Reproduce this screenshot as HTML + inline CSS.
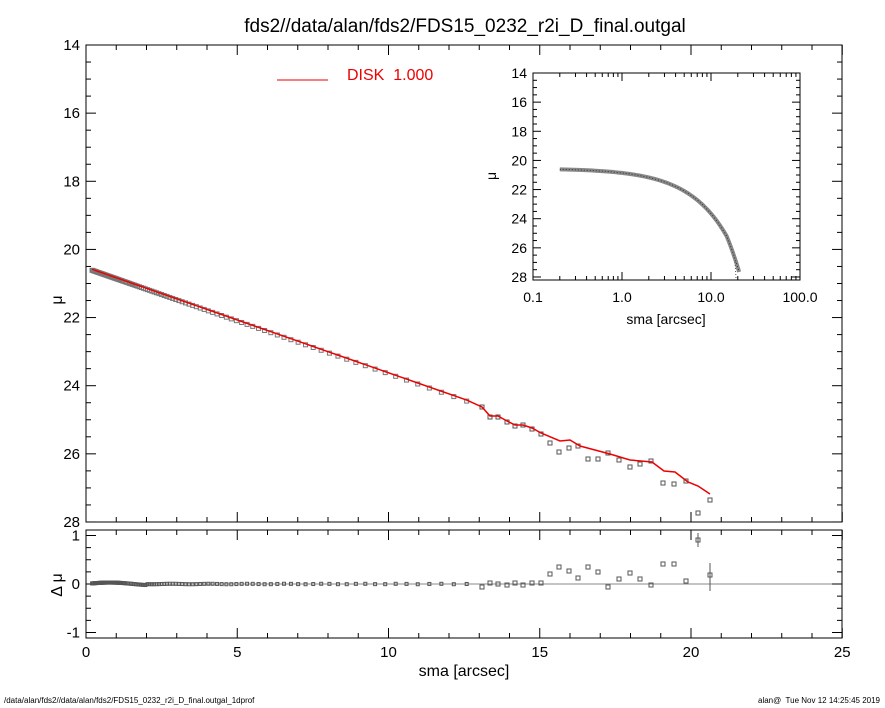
<!DOCTYPE html><html><head><meta charset="utf-8"><style>
body{margin:0;background:#fff}svg{display:block;font-family:"Liberation Sans",sans-serif}
</style></head><body>
<svg id="s" width="885" height="708" xmlns="http://www.w3.org/2000/svg">
<text x="465" y="32" font-size="19" text-anchor="middle">fds2//data/alan/fds2/FDS15_0232_r2i_D_final.outgal</text>
<rect x="86" y="45" width="756" height="477" fill="none" stroke="#000"/>
<rect x="86" y="530" width="756" height="108" fill="none" stroke="#000"/>
<line x1="86" y1="584" x2="842" y2="584" stroke="#888"/>
<line x1="277" y1="80" x2="328" y2="80" stroke="#e00"/>
<text x="347" y="80" font-size="16" fill="#e00">DISK&#160; 1.000</text>
<text x="62" y="300" font-size="16" transform="rotate(-90 62 300)" text-anchor="middle">μ</text>
<text x="62" y="585" font-size="16" transform="rotate(-90 62 585)" text-anchor="middle">Δ μ</text>
<text x="464" y="676" font-size="16" text-anchor="middle">sma [arcsec]</text>
<text x="4" y="703" font-size="8">/data/alan/fds2//data/alan/fds2/FDS15_0232_r2i_D_final.outgal_1dprof</text>
<text x="880" y="703" font-size="8" text-anchor="end">alan@&#160; Tue Nov 12 14:25:45 2019</text>
<rect x="533" y="73" width="267" height="207" fill="#fff" stroke="#000"/>
<text x="666" y="324" font-size="14" text-anchor="middle">sma [arcsec]</text>
<text x="496" y="176" font-size="14" transform="rotate(-90 496 176)" text-anchor="middle">μ</text>
<g id="g"></g>
</svg>
<script>
var g=document.getElementById('g'),h='';
function X(v){return 86+v*30.25}function Y(m){return 45+(m-14)*34.07}function R(d){return 584-d*48.5}
for(var i=0;i<=25;i++){var x=X(i),L=i%5?5:10;h+=`<line x1="${x}" y1="522" x2="${x}" y2="${522-L}" stroke="#000"/><line x1="${x}" y1="45" x2="${x}" y2="${45+L}" stroke="#000"/><line x1="${x}" y1="638" x2="${x}" y2="${638-L}" stroke="#000"/><line x1="${x}" y1="530" x2="${x}" y2="${530+L}" stroke="#000"/>`;
if(i%5==0)h+=`<text x="${x}" y="657" font-size="15" text-anchor="middle">${i}</text>`;}
for(var m=14;m<=28;m+=0.5){var y=Y(m),L=m%2?5:10;h+=`<line x1="86" y1="${y}" x2="${86+L}" y2="${y}" stroke="#000"/><line x1="842" y1="${y}" x2="${842-L}" y2="${y}" stroke="#000"/>`;
if(m%2==0)h+=`<text x="80" y="${y+5}" font-size="15" text-anchor="end">${m}</text>`;}
for(var d=-1;d<=1;d+=0.25){var y=R(d),L=d%1?5:10;h+=`<line x1="86" y1="${y}" x2="${86+L}" y2="${y}" stroke="#000"/><line x1="842" y1="${y}" x2="${842-L}" y2="${y}" stroke="#000"/>`;
if(d%1==0)h+=`<text x="80" y="${y+5}" font-size="15" text-anchor="end">${d}</text>`;}
function mu(s){return 20.55+0.31*s}
var pts=[],s=0.2;while(s<13){pts.push(s);s+=Math.max(0.03,s*0.035)}
var red='';pts.forEach(function(s){var x=X(s),y=Y(mu(s));h+=`<rect x="${x-2}" y="${y-2}" width="4" height="4" fill="none" stroke="#777" stroke-width="1"/>`;red+=x+','+(y-1)+' ';
var r=R(s<2?0.03*Math.sin(s*2):0.005*Math.sin(s*5));h+=`<rect x="${x-1.5}" y="${r-1.5}" width="3" height="3" fill="none" stroke="#555" stroke-width="1"/>`;});
var P=[[482,407,587],[490,417,583],[498,417,584],[507,422,585],[515,426,583],[523,425,585],[532,429,583],[541,434,583],[550,443,574],[559,452,567],[569,448,571],[578,446,578],[588,459,567],[598,459,572],[608,453,587],[619,460,579],[630,467,573],[640,464,579],[651,461,585],[663,483,564],[674,484,564],[686,481,581],[698,513,540],[710,500,575]];
P.forEach(function(p){h+=`<rect x="${p[0]-2}" y="${p[1]-2}" width="4" height="4" fill="none" stroke="#555"/><rect x="${p[0]-2}" y="${p[2]-2}" width="4" height="4" fill="none" stroke="#555"/>`});
h+=`<line x1="710" y1="563" x2="710" y2="591" stroke="#555"/><line x1="698" y1="533" x2="698" y2="547" stroke="#555"/>`;
red+='482,407 490,416 498,416 507,421 515,425 523,425 532,428 541,433 560,441 570,440 580,446 610,454 630,460 652,462 664,471 675,472 688,482 698,486 710,494';
h+=`<polyline points="${red}" fill="none" stroke="#e00" stroke-width="1.5"/>`;
function IX(s){return 533+89*Math.log10(s/0.1)}function IY(m){return 73+(m-14)*14.57}
for(var k=0;k<=3;k++){var x=533+89*k;h+=`<line x1="${x}" y1="280" x2="${x}" y2="272" stroke="#000"/><line x1="${x}" y1="73" x2="${x}" y2="81" stroke="#000"/><text x="${x}" y="302" font-size="14" text-anchor="middle">${['0.1','1.0','10.0','100.0'][k]}</text>`;
for(var j=2;j<10&&k<3;j++){var xx=x+89*Math.log10(j);h+=`<line x1="${xx}" y1="280" x2="${xx}" y2="276" stroke="#000"/><line x1="${xx}" y1="73" x2="${xx}" y2="77" stroke="#000"/>`}}
for(var m=14;m<=28;m+=0.5){var y=IY(m),L=m%2?4:8;h+=`<line x1="533" y1="${y}" x2="${533+L}" y2="${y}" stroke="#000"/><line x1="800" y1="${y}" x2="${800-L}" y2="${y}" stroke="#000"/>`;
if(m%2==0)h+=`<text x="527" y="${y+5}" font-size="14" text-anchor="end">${m}</text>`;}
var ip='';pts.concat([13.5,14,14.5,15,15.5,16,16.5,17,17.5,18,18.5,19,19.5,20,20.3,20.7]).forEach(function(s){var m=s<15?mu(s):mu(s)+(s-15)*0.12;ip+=IX(s)+','+IY(m)+' ';});
h+=`<polyline points="${ip}" fill="none" stroke="#888" stroke-width="4"/><polyline points="${ip}" fill="none" stroke="#333" stroke-width="1" stroke-dasharray="1,2"/>`;
h+=`<line x1="735" y1="262" x2="736" y2="278" stroke="#555" stroke-dasharray="1,2"/>`;
g.innerHTML=h;
</script></body></html>
